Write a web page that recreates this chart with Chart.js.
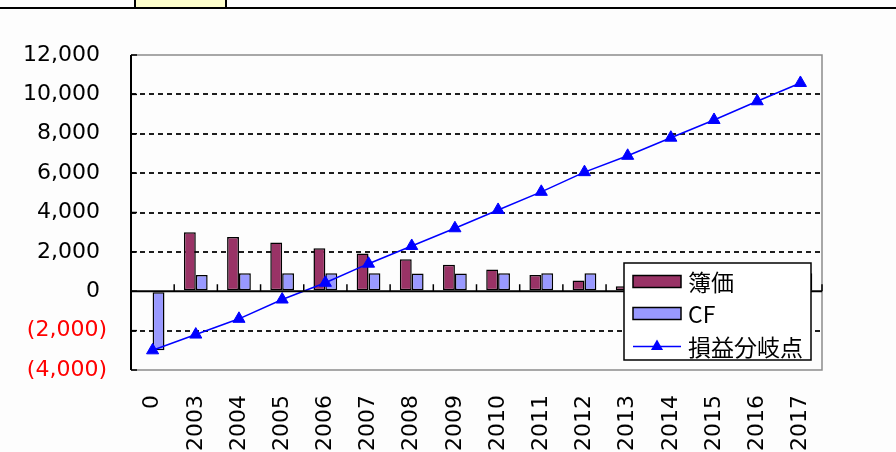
<!DOCTYPE html>
<html>
<head>
<meta charset="utf-8">
<script src="https://cdn.jsdelivr.net/npm/chart.js@4.4.1/dist/chart.umd.min.js"></script>
<style>
  html, body { margin: 0; padding: 0; background: #ffffff; }
  #wrap { position: relative; width: 896px; height: 452px; overflow: hidden; background: #fdfdfd; }
  #chart { position: absolute; left: 0; top: 0; }
  .sheet-rule { position: absolute; left: 0; top: 7px; width: 896px; height: 2px; background: #000; }
  .sheet-cell { position: absolute; left: 134px; top: 0; width: 89px; height: 7px; background: #ffffcc;
                border-left: 2px solid #000; border-right: 2px solid #000; }
</style>
</head>
<body>
<div id="wrap">
  <canvas id="chart" width="896" height="452"></canvas>
  <div class="sheet-cell"></div>
  <div class="sheet-rule"></div>
</div>
<script>
// Years on the category axis ("0" is the initial investment year)
const categories = ['0', '2003', '2004', '2005', '2006', '2007', '2008', '2009',
                    '2010', '2011', '2012', '2013', '2014', '2015', '2016', '2017'];

// 簿価 (book value)
const bookValue = [0, 3000, 2750, 2480, 2180, 1920, 1620, 1350, 1100, 830, 540, 250, 0, 0, 0, 0];

// CF (cash flow)
const cashFlow = [-3000, 830, 920, 920, 920, 920, 900, 900, 920, 920, 920, 920, 920, 920, 920, 920];

// 損益分岐点 (break-even)
const breakEven = [-3000, -2200, -1400, -420, 430, 1400, 2300, 3200, 4130, 5050,
                   6050, 6880, 7800, 8700, 9650, 10580];

const seriesNames = ['簿価', 'CF', '損益分岐点'];

// Value axis range and step
const yMin = -4000;
const yMax = 12000;
const yStep = 2000;

const COLORS = { book: '#993366', cf: '#9999ff', line: '#0000ff' };
const LABEL_FONT = { family: '"DejaVu Sans", sans-serif', size: 22 };

function formatAmount(v) {
  const s = Math.abs(v).toLocaleString('en-US');
  return v < 0 ? '(' + s + ')' : s + ' ';
}

// Plot frame, zero axis with category tick marks, and value-axis ticks
const plotFrame = {
  id: 'plotFrame',
  beforeDatasetsDraw(chart) {
    const { ctx, chartArea: a, scales: { y } } = chart;
    ctx.save();
    // grey border on top / right / bottom
    ctx.strokeStyle = '#8c8c8c';
    ctx.lineWidth = 1.5;
    ctx.beginPath();
    ctx.moveTo(a.left, a.top);
    ctx.lineTo(a.right, a.top);
    ctx.lineTo(a.right, a.bottom);
    ctx.lineTo(a.left, a.bottom);
    ctx.stroke();
    // value axis
    ctx.strokeStyle = '#000';
    ctx.lineWidth = 2;
    ctx.beginPath();
    ctx.moveTo(a.left, a.top);
    ctx.lineTo(a.left, a.bottom);
    ctx.stroke();
    ctx.lineWidth = 1.5;
    y.ticks.forEach(t => {
      const py = y.getPixelForValue(t.value);
      ctx.beginPath();
      ctx.moveTo(a.left, py);
      ctx.lineTo(a.left + 6, py);
      ctx.stroke();
    });
    ctx.restore();
  },
  afterDatasetsDraw(chart) {
    const { ctx, chartArea: a, scales: { y } } = chart;
    const zy = y.getPixelForValue(0);
    ctx.save();
    ctx.strokeStyle = '#000';
    ctx.lineWidth = 2;
    ctx.beginPath();
    ctx.moveTo(a.left, zy);
    ctx.lineTo(a.right, zy);
    ctx.stroke();
    // tick marks between categories
    const n = categories.length;
    const w = (a.right - a.left) / n;
    ctx.lineWidth = 1.5;
    for (let i = 1; i <= n; i++) {
      const px = a.left + w * i;
      ctx.beginPath();
      ctx.moveTo(px, zy);
      ctx.lineTo(px, zy - 7);
      ctx.stroke();
    }
    ctx.restore();
  }
};

// Boxed legend placed inside the plot area
const boxedLegend = {
  id: 'boxedLegend',
  afterDraw(chart) {
    const { ctx, chartArea: a } = chart;
    const ds = chart.data.datasets;
    const left = a.right - 198, top = 263, width = 187, height = 97;
    ctx.save();
    ctx.fillStyle = '#ffffff';
    ctx.fillRect(left, top, width, height);
    ctx.strokeStyle = '#000';
    ctx.lineWidth = 1.5;
    ctx.strokeRect(left, top, width, height);

    const rows = [top + 18.5, top + 50.5, top + 83.5];
    const sx = left + 9, sw = 48, tx = left + 64;
    ctx.font = '23px "Noto Sans CJK JP", sans-serif';
    ctx.textBaseline = 'middle';
    ctx.textAlign = 'left';

    ds.forEach((d, r) => {
      const cy = rows[r];
      if (d.type === 'line') {
        ctx.strokeStyle = d.borderColor;
        ctx.lineWidth = 1.5;
        ctx.beginPath();
        ctx.moveTo(sx, cy);
        ctx.lineTo(sx + sw, cy);
        ctx.stroke();
        const cx = sx + sw / 2, rr = 7;
        ctx.fillStyle = d.pointBackgroundColor;
        ctx.beginPath();
        ctx.moveTo(cx, cy - rr);
        ctx.lineTo(cx + rr * Math.sin(2 * Math.PI / 3), cy + rr / 2);
        ctx.lineTo(cx - rr * Math.sin(2 * Math.PI / 3), cy + rr / 2);
        ctx.closePath();
        ctx.fill();
      } else {
        ctx.fillStyle = d.backgroundColor;
        ctx.fillRect(sx, cy - 6, sw, 12);
        ctx.strokeStyle = '#000';
        ctx.lineWidth = 1.5;
        ctx.strokeRect(sx, cy - 6, sw, 12);
      }
      ctx.fillStyle = '#000';
      ctx.fillText(d.label, tx, cy + 1);
    });
    ctx.restore();
  }
};

new Chart(document.getElementById('chart'), {
  type: 'bar',
  data: {
    labels: categories,
    datasets: [
      {
        label: seriesNames[0],
        data: bookValue,
        backgroundColor: COLORS.book,
        borderColor: '#000',
        borderWidth: 1.5,
        borderSkipped: false,
        barPercentage: 1.0,
        categoryPercentage: 0.55,
        order: 1
      },
      {
        label: seriesNames[1],
        data: cashFlow,
        backgroundColor: COLORS.cf,
        borderColor: '#000',
        borderWidth: 1.5,
        borderSkipped: false,
        barPercentage: 1.0,
        categoryPercentage: 0.55,
        order: 2
      },
      {
        type: 'line',
        label: seriesNames[2],
        data: breakEven,
        borderColor: COLORS.line,
        borderWidth: 1.5,
        pointStyle: 'triangle',
        pointRadius: 7,
        pointBackgroundColor: COLORS.line,
        pointBorderColor: COLORS.line,
        pointBorderWidth: 1,
        tension: 0,
        fill: false,
        order: 0
      }
    ]
  },
  options: {
    responsive: false,
    animation: false,
    devicePixelRatio: 1,
    layout: { padding: { top: 55, right: 74, bottom: 0, left: 0 } },
    plugins: {
      legend: { display: false },
      tooltip: { enabled: false }
    },
    scales: {
      x: {
        grid: { display: false, drawTicks: false },
        border: { display: false },
        ticks: {
          autoSkip: false,
          minRotation: 90,
          maxRotation: 90,
          padding: 25,
          color: '#000',
          font: LABEL_FONT
        },
        afterFit(scale) { scale.height = 82; }
      },
      y: {
        min: yMin,
        max: yMax,
        grid: {
          drawTicks: false,
          lineWidth: 2,
          borderDash: [5, 4],
          color: c => (c.tick && (c.tick.value === 0 || c.tick.value === yMin || c.tick.value === yMax))
            ? 'rgba(0,0,0,0)' : '#1e1e1e'
        },
        border: { display: false, dash: [5, 4] },
        ticks: {
          stepSize: yStep,
          padding: 24,
          font: LABEL_FONT,
          color: c => (c.tick && c.tick.value < 0) ? '#ff0000' : '#000000',
          callback: v => formatAmount(v)
        },
        afterFit(scale) { scale.width = 131; }
      }
    }
  },
  plugins: [plotFrame, boxedLegend]
});
</script>
</body>
</html>
